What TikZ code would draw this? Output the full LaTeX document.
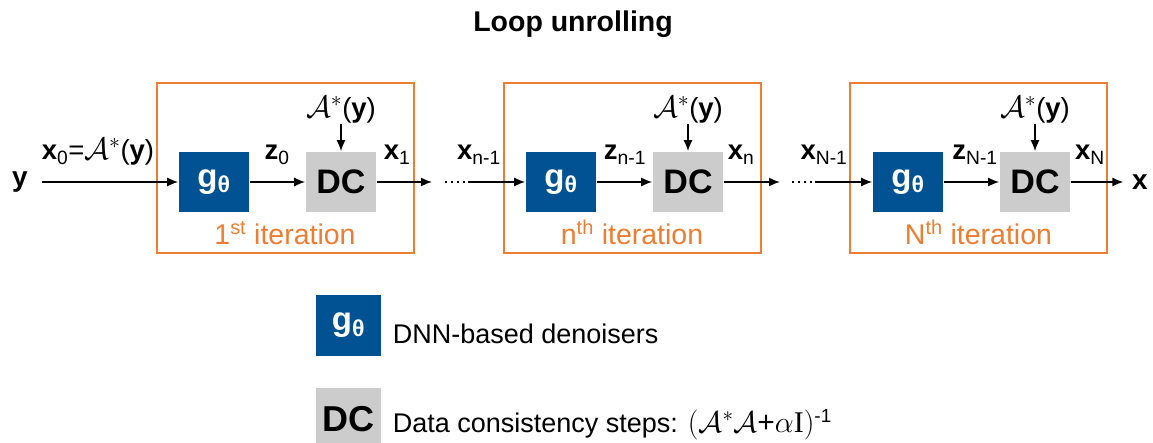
\documentclass[tikz,border=0pt]{standalone}
\usepackage{fix-cm}
\usepackage{fontspec}
\setmainfont{Liberation Sans}
\newfontfamily\seriffam{Liberation Serif}
\usetikzlibrary{arrows.meta,positioning}

\definecolor{iterorange}{RGB}{237,125,49}
\definecolor{gblue}{RGB}{0,82,147}
\definecolor{dcgray}{RGB}{204,204,204}

\newcommand{\opA}{{\fontsize{31}{32}\selectfont$\mathcal{A}^{*}$}}
\newcommand{\Ay}{\opA(\textbf{y})}
\newcommand{\gth}{\textbf{g}\textsubscript{\textbf{θ}}}
\newcommand{\bx}[2]{\textbf{#1}\textsubscript{#2}}

\begin{document}
\begin{tikzpicture}[x=1pt,y=-1pt,>={Latex[length=11pt,width=9pt]},line width=1.6pt,
  font=\fontsize{27.5}{32}\selectfont,
  gnet/.style={fill=gblue,text=white,minimum width=70pt,minimum height=60pt,inner sep=0pt,
    font=\fontsize{33}{36}\selectfont\bfseries},
  dcstep/.style={fill=dcgray,minimum width=70pt,minimum height=60pt,inner sep=0pt,
    font=\fontsize{34}{38}\selectfont\bfseries},
  iterbox/.style={draw=iterorange,line width=2pt,minimum width=257pt,minimum height=170pt},
  iterlabel/.style={text=iterorange,anchor=base,inner sep=0pt,font=\fontsize{28.5}{32}\selectfont},
  lbl/.style={anchor=base,inner sep=0pt}]
\useasboundingbox (0,0) rectangle (1153,443);

\node[lbl,font=\fontsize{28.5}{32}\selectfont\bfseries] (title) at (573,32) {Loop unrolling};

% iteration frames
\node[iterbox] (it1) at (285,168) {};
\node[iterbox] (it2) at (632,168) {};
\node[iterbox] (it3) at (978.5,168) {};
\node[iterlabel] (itl1) at ([yshift=9pt]it1.south) {1\textsuperscript{st} iteration};
\node[iterlabel] (itl2) at ([yshift=9pt]it2.south) {n\textsuperscript{th} iteration};
\node[iterlabel] (itl3) at ([yshift=9pt]it3.south) {N\textsuperscript{th} iteration};

% blocks
\node[gnet] (g1) at (214,182) {\gth};
\node[dcstep] (dc1) at (341,182) {DC};
\node[gnet] (g2) at (561,182) {\gth};
\node[dcstep] (dc2) at (688,182) {DC};
\node[gnet] (g3) at (908,182) {\gth};
\node[dcstep] (dc3) at (1035,182) {DC};

\node[inner sep=0pt] (a1) at (341,110) {\Ay};
\node[inner sep=0pt] (a2) at (688,110) {\Ay};
\node[inner sep=0pt] (a3) at (1035,110) {\Ay};

\node[inner sep=0pt,font=\fontsize{28}{32}\selectfont\bfseries] (yin) at (20,182) {y};
\node[inner sep=0pt,font=\fontsize{28}{32}\selectfont\bfseries] (xout) at (1140,182) {x};

\coordinate (e1) at (432,182);
\coordinate (d1) at (445,182);
\coordinate (s1) at (468,182);
\coordinate (e2) at (780,182);
\coordinate (d2) at (792,182);
\coordinate (s2) at (815,182);

% connectors
\draw[->,shorten <=13pt] (yin) -- (g1);
\draw[->] (g1) -- (dc1);
\draw[->] (dc1) -- (e1);
\draw[dash pattern=on 2pt off 4pt,line width=1.2pt] (d1) -- (s1);
\draw[->] (s1) -- (g2);
\draw[->] (g2) -- (dc2);
\draw[->] (dc2) -- (e2);
\draw[dash pattern=on 2pt off 4pt,line width=1.2pt] (d2) -- (s2);
\draw[->] (s2) -- (g3);
\draw[->] (g3) -- (dc3);
\draw[->,shorten >=8pt] (dc3) -- (xout);
\foreach \i in {1,2,3}
  \draw[->] (a\i.south) -- (dc\i.north);

% labels on the links
\node[lbl] (lx0) at (98,160) {\bx{x}{0}=\Ay};
\node[lbl] (lz0) at (277,160) {\bx{z}{0}};
\node[lbl] (lx1) at (397,160) {\bx{x}{1}};
\node[lbl] (lxn1) at (479,160) {\bx{x}{n-1}};
\node[lbl] (lzn1) at (625,160) {\bx{z}{n-1}};
\node[lbl] (lxn) at (741,160) {\bx{x}{n}};
\node[lbl] (lxN1) at (824,160) {\bx{x}{N-1}};
\node[lbl] (lzN1) at (975,160) {\bx{z}{N-1}};
\node[lbl] (lxN) at (1090,160) {\bx{x}{N}};

% legend
\node[gnet,minimum width=65pt,minimum height=61pt] (lg) at (348.5,325.5) {\gth};
\node[lbl,anchor=base west,font=\fontsize{27}{30}\selectfont] (lgtxt) at (392,343) {DNN-based denoisers};
\node[dcstep,minimum width=65pt,minimum height=62pt,font=\fontsize{36}{40}\selectfont\bfseries] (ldc) at (348.5,419) {DC};
\node[lbl,anchor=base west,font=\fontsize{27}{30}\selectfont] (ldctxt) at (392,432)
  {Data consistency steps: {\fontsize{30}{32}\selectfont$(\mathcal{A}^{*}\mathcal{A}$+$\alpha${\seriffam I}$)$}\textsuperscript{-1}};
\end{tikzpicture}
\end{document}
